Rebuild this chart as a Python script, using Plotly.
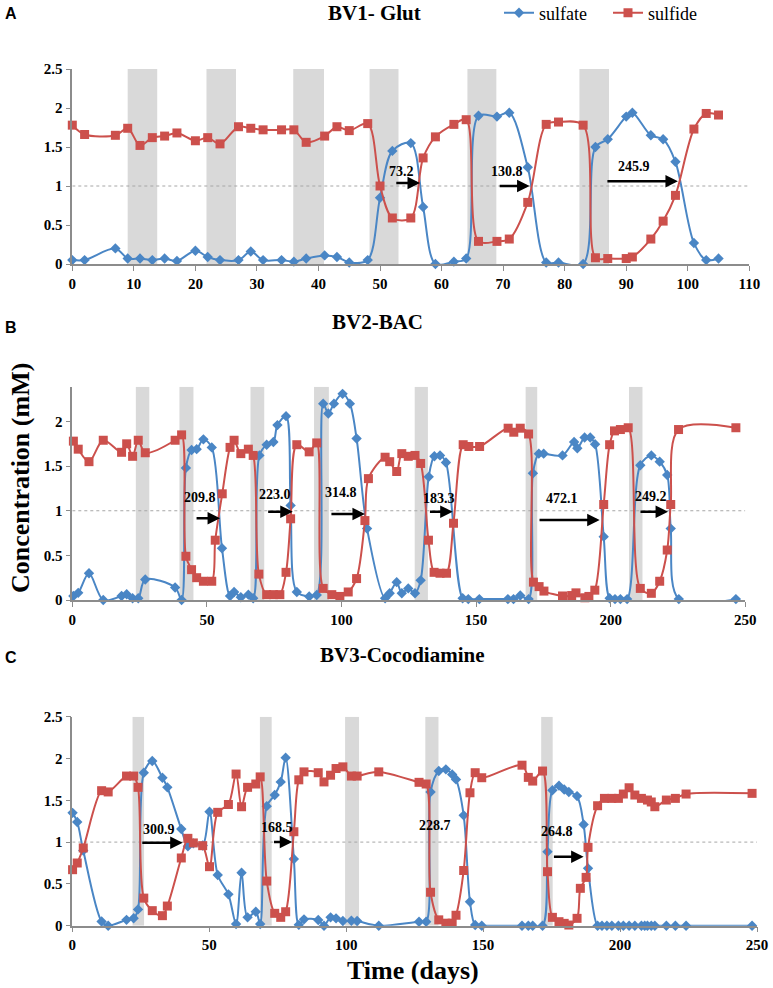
import plotly.graph_objects as go

# ---------------- data ----------------
# Panel A  (BV1- Glut)
a_day = [0, 2, 7, 9, 11, 13, 15, 17, 20, 22, 24, 27, 29, 31, 34, 36, 38, 41, 43, 45,
         48, 50, 52, 55, 57, 59, 62, 64, 66, 69, 71, 74, 77, 79, 83, 85, 87, 90, 91, 94,
         96, 98, 101, 103, 105]
a_sulfate = [0.05, 0.05, 0.20, 0.07, 0.07, 0.05, 0.07, 0.04, 0.17, 0.09, 0.05, 0.05, 0.16, 0.05,
             0.05, 0.03, 0.07, 0.11, 0.09, 0.02, 0.05, 0.85, 1.45, 1.55, 0.73, 0.0, 0.03, 0.07,
             1.90, 1.89, 1.94, 1.24, 0.02, 0.02, 0.0, 1.50, 1.60, 1.89, 1.94, 1.65, 1.60, 1.31,
             0.27, 0.05, 0.07]
a_sulfide = [1.78, 1.66, 1.65, 1.74, 1.52, 1.62, 1.64, 1.68, 1.58, 1.62, 1.54, 1.76, 1.74, 1.72,
             1.72, 1.72, 1.56, 1.64, 1.76, 1.71, 1.80, 1.00, 0.59, 0.59, 1.36, 1.63, 1.79, 1.85,
             0.29, 0.29, 0.32, 0.79, 1.79, 1.82, 1.78, 0.08, 0.07, 0.07, 0.09, 0.32, 0.55, 0.88,
             1.73, 1.93, 1.91]
a_band_labels = ['50', '100', '200', '400', '600', '1000']
a_band_start = [9.0, 21.8, 35.9, 48.3, 64.2, 82.4]
a_band_end = [13.8, 26.6, 40.9, 53.0, 68.9, 87.2]
a_arrow_labels = ['73.2', '130.8', '245.9']
a_arrow_from = [52.4, 69.2, 86.7]
a_arrow_to = [56.5, 74.3, 98.4]
a_arrow_y = [1.04, 1.0, 1.06]
a_label_x = [53.5, 70.6, 91.3]
a_label_y = [1.18, 1.18, 1.25]

# Panel B  (BV2-BAC)
b_sulfate_day = [0.4, 2.2, 6.2, 11.5, 18.3, 20.2, 22.4, 24.5, 27.1, 38.2, 40.6, 42.2, 44.3, 46.2,
                 48.7, 51.8, 55.6, 58.6, 60.1, 62.6, 65.4, 67.2, 69.5, 72.2, 74.7, 76.2, 79.4,
                 81.1, 83.4, 88.0, 90.8, 93.2, 95.1, 97.2, 100.4, 103.1, 105.6, 109.5, 116.2,
                 117.9, 120.5, 122.4, 124.8, 127.3, 129.4, 132.4, 134.5, 136.6, 138.8, 145.0,
                 147.1, 151.2, 161.8, 163.9, 166.4, 169.5, 171.1, 173.3, 175.1, 182.1, 186.4,
                 187.6, 190.3, 192.4, 194.2, 197.4, 199.6, 201.6, 203.6, 206.1, 211.0, 215.1,
                 218.2, 221.0, 222.3, 225.3, 246.5]
b_sulfate = [0.045, 0.08, 0.30, 0.0, 0.045, 0.064, 0.02, 0.02, 0.23, 0.14, 0.0, 1.48, 1.68, 1.69,
             1.80, 1.71, 0.58, 0.045, 0.09, 0.03, 0.06, 0.02, 1.62, 1.74, 1.77, 1.96, 2.06,
             1.06, 0.09, 0.04, 0.056, 2.20, 2.09, 2.20, 2.31, 2.20, 1.81, 0.80, 0.02,
             0.075, 0.20, 0.075, 0.13, 0.075, 0.22, 1.38, 1.61, 1.62, 1.54, 0.02,
             0.01, 0.01, 0.01, 0.01, 0.05, 0.01, 1.42, 1.64, 1.64, 1.62, 1.77,
             1.70, 1.82, 1.82, 1.745, 0.71, 0.02, 0.01, 0.01, 0.01, 1.51, 1.62,
             1.55, 1.40, 0.80, 0.01, 0.01]
b_sulfide_day = [0.4, 2.2, 6.2, 11.5, 18.3, 20.2, 22.4, 24.5, 27.1, 38.2, 40.6, 42.2, 44.3, 46.2,
                 48.7, 51.8, 53.1, 55.7, 58.6, 60.1, 62.6, 65.4, 67.2, 69.3, 72.2, 74.7, 77.1,
                 79.4, 81.1, 83.4, 88.0, 90.8, 93.2, 96.4, 99.4, 102.5, 105.6, 108.7, 110.0,
                 116.2, 117.9, 120.5, 122.4, 124.8, 127.3, 129.4, 132.3, 134.4, 136.6, 139.0,
                 141.6, 145.2, 147.3, 151.3, 161.9, 164.0, 166.4, 169.5, 171.3, 173.4, 175.2,
                 182.1, 185.5, 187.1, 190.4, 191.9, 194.1, 197.4, 199.6, 201.4, 203.6, 206.5,
                 211.0, 215.1, 218.2, 221.0, 222.3, 225.2, 246.5]
b_sulfide = [1.78, 1.69, 1.55, 1.79, 1.655, 1.75, 1.61, 1.79, 1.65, 1.79, 1.85, 0.49, 0.34, 0.25,
             0.21, 0.21, 0.67, 1.19, 1.71, 1.79, 1.64, 1.69, 1.62, 0.29, 0.06, 0.06, 0.06,
             0.31, 0.91, 1.74, 1.66, 1.76, 0.13, 0.06, 0.04, 0.09, 0.24, 0.89, 1.36,
             1.60, 1.55, 1.44, 1.64, 1.61, 1.62, 1.53, 0.67, 0.31, 0.30, 0.30,
             0.86, 1.74, 1.72, 1.72, 1.925, 1.88, 1.925, 1.86, 0.20, 0.15, 0.10,
             0.045, 0.05, 0.08, 0.025, 0.04, 0.11, 1.07, 1.74, 1.895, 1.91, 1.93,
             0.13, 0.075, 0.21, 0.56, 1.07, 1.91, 1.93]
b_band_labels = ['36', '180', '360', '1080', '100', '1440', '800']
b_band_start = [23.6, 39.8, 66.2, 89.8, 127.2, 168.4, 206.8]
b_band_end = [28.6, 45.0, 71.3, 95.3, 132.1, 172.7, 211.8]
b_arrow_labels = ['209.8', '223.0', '314.8', '183.3', '472.1', '249.2']
b_arrow_from = [45.6, 72.2, 95.7, 132.3, 173.0, 210.5]
b_arrow_to = [54.9, 81.9, 108.7, 141.3, 195.9, 221.3]
b_arrow_y = [0.915, 0.99, 0.964, 0.99, 0.897, 0.99]
b_label_x = [47.4, 75.3, 99.7, 136.4, 182.0, 215.1]
b_label_y = [1.15, 1.18, 1.21, 1.14, 1.14, 1.16]

# Panel C  (BV3-Cocodiamine)
c_sulfate_day = [0.1, 1.8, 4.0, 10.7, 13.1, 19.8, 22.4, 24.0, 26.1, 29.2, 32.9, 34.7, 39.8, 42.2,
                 44.2, 47.6, 50.1, 53.1, 57.0, 59.8, 61.8, 64.0, 67.0, 68.6, 71.0, 73.9, 76.1,
                 77.9, 80.9, 82.7, 84.6, 89.8, 91.9, 94.3, 96.3, 98.8, 101.9, 104.0, 111.9,
                 126.6, 129.2, 130.8, 133.8, 136.4, 138.7, 140.1, 142.9, 145.2, 147.1, 149.5,
                 164.2, 166.5, 168.1, 171.7, 173.5, 175.3, 177.7, 179.6, 181.3, 184.3, 186.7,
                 188.3, 191.8, 193.4, 195.2, 197.0, 199.4, 201.2, 203.3, 205.4, 207.8, 209.0,
                 210.0, 211.4, 212.7, 216.9, 220.2, 224.1, 248.2]
c_sulfate = [1.35, 1.24, 0.90, 0.05, 0.0, 0.07, 0.09, 0.195, 1.83, 1.97, 1.77, 1.655, 1.156, 0.95,
             0.985, 0.96, 1.364, 0.606, 0.375, 0.02, 0.634, 0.10, 0.167, 0.02, 1.43, 1.563, 1.72,
             2.01, 0.797, 0.01, 0.076, 0.068, 0.0, 0.10, 0.088, 0.056, 0.06, 0.056, 0.0,
             0.048, 0.048, 1.60, 1.85, 1.87, 1.81, 1.75, 1.32, 0.287, 0.008, 0.0,
             0.0, 0.0, 0.0, 0.0, 0.885, 1.62, 1.675, 1.63, 1.60, 1.55, 1.21,
             0.686, 0.0, 0.0, 0.0, 0.0, 0.0, 0.0, 0.0, 0.0, 0.0, 0.0,
             0.0, 0.0, 0.0, 0.0, 0.0, 0.0, 0.0]
c_sulfide_day = [0.1, 1.8, 4.0, 10.7, 13.1, 19.8, 22.4, 24.0, 26.1, 29.2, 32.9, 34.7, 39.8, 42.2,
                 44.2, 47.6, 50.1, 53.1, 57.0, 59.8, 61.8, 64.0, 67.0, 68.6, 71.0, 73.9, 76.1,
                 77.9, 80.9, 82.7, 84.6, 89.8, 91.9, 94.3, 96.3, 98.8, 101.9, 104.0, 111.9,
                 126.6, 129.2, 130.8, 133.8, 136.4, 138.7, 140.1, 142.9, 145.2, 147.1, 149.5,
                 164.2, 166.5, 168.1, 171.7, 173.5, 175.3, 177.7, 179.6, 181.3, 184.3, 185.5,
                 187.6, 188.3, 191.8, 194.3, 197.0, 199.4, 201.2, 203.3, 205.4, 207.8, 210.0,
                 211.4, 212.7, 216.9, 220.2, 224.1, 248.2]
c_sulfide = [0.67, 0.75, 0.93, 1.615, 1.60, 1.79, 1.79, 1.655, 0.33, 0.18, 0.12, 0.235, 0.81, 1.045,
             0.99, 0.957, 0.706, 1.356, 1.45, 1.814, 1.423, 1.655, 1.695, 1.78, 0.534, 0.148, 0.10,
             0.167, 1.124, 1.745, 1.84, 1.83, 1.72, 1.80, 1.88, 1.90, 1.79, 1.79, 1.84,
             1.715, 1.695, 0.40, 0.07, 0.03, 0.03, 0.125, 0.66, 1.59, 1.83, 1.77,
             1.92, 1.774, 1.73, 1.85, 0.646, 0.10, 0.048, 0.028, 0.008, 0.088, 0.447,
             0.578, 0.937, 1.435, 1.523, 1.523, 1.523, 1.575, 1.65, 1.563, 1.523, 1.503,
             1.48, 1.423, 1.503, 1.523, 1.575, 1.583]
c_band_labels = ['50', '25', '12.5', '100', '150']
c_band_start = [22.0, 68.5, 99.6, 128.9, 171.2]
c_band_end = [26.2, 72.8, 104.7, 133.7, 175.4]
c_arrow_labels = ['300.9', '168.5', '228.7', '264.8']
c_arrow_from = [25.0, 73.1, None, 175.3]
c_arrow_to = [40.3, 80.3, None, 186.7]
c_arrow_y = [0.993, 1.0, None, 0.825]
c_label_x = [31.6, 74.9, 132.4, 177.1]
c_label_y = [1.145, 1.18, 1.196, 1.124]

a_xticks = [0, 10, 20, 30, 40, 50, 60, 70, 80, 90, 100, 110]
bc_xticks = [0, 50, 100, 150, 200, 250]
y_ticks = [0, 0.5, 1, 1.5, 2, 2.5]

# ---------------- styling ----------------
BLUE = '#4a86c5'
RED = '#cc504c'
AXIS = '#8c8c8c'
BAND = '#d9d9d9'
SERIF = 'Liberation Serif'
W, H = 773, 988

fig = go.Figure()

panels = [
    dict(ax='', xs_s=a_day, s=a_sulfate, xs_h=a_day, h=a_sulfide, legend=True,
         bl=a_band_labels, b0=a_band_start, b1=a_band_end, ytop=2.5, xmax=110, band_label_y=2.65,
         al=a_arrow_labels, af=a_arrow_from, at=a_arrow_to, ay=a_arrow_y, lx=a_label_x, ly=a_label_y),
    dict(ax='2', xs_s=b_sulfate_day, s=b_sulfate, xs_h=b_sulfide_day, h=b_sulfide, legend=False,
         bl=b_band_labels, b0=b_band_start, b1=b_band_end, ytop=2.39, xmax=250, band_label_y=2.59,
         al=b_arrow_labels, af=b_arrow_from, at=b_arrow_to, ay=b_arrow_y, lx=b_label_x, ly=b_label_y),
    dict(ax='3', xs_s=c_sulfate_day, s=c_sulfate, xs_h=c_sulfide_day, h=c_sulfide, legend=False,
         bl=c_band_labels, b0=c_band_start, b1=c_band_end, ytop=2.5, xmax=250, band_label_y=2.66,
         al=c_arrow_labels, af=c_arrow_from, at=c_arrow_to, ay=c_arrow_y, lx=c_label_x, ly=c_label_y),
]

shapes = []
annotations = []

for p in panels:
    xr = 'x' + p['ax']
    yr = 'y' + p['ax']
    fig.add_trace(go.Scatter(
        x=p['xs_s'], y=p['s'], name='sulfate', mode='lines+markers',
        line=dict(color=BLUE, width=2, shape='spline', smoothing=0.9),
        marker=dict(symbol='diamond', size=8, color=BLUE),
        xaxis=xr, yaxis=yr, showlegend=p['legend'], legendgroup='sulfate', cliponaxis=False))
    fig.add_trace(go.Scatter(
        x=p['xs_h'], y=p['h'], name='sulfide', mode='lines+markers',
        line=dict(color=RED, width=2, shape='spline', smoothing=0.9),
        marker=dict(symbol='square', size=9, color=RED),
        xaxis=xr, yaxis=yr, showlegend=p['legend'], legendgroup='sulfide', cliponaxis=False))
    for lab, x0, x1 in zip(p['bl'], p['b0'], p['b1']):
        shapes.append(dict(type='rect', xref=xr, yref=yr, x0=x0, x1=x1, y0=0, y1=p['ytop'],
                           fillcolor=BAND, line=dict(width=0), layer='below'))
        annotations.append(dict(xref=xr, yref=yr, x=(x0 + x1) / 2, y=p['band_label_y'],
                                text='<b>%s</b>' % lab, showarrow=False,
                                font=dict(family=SERIF, size=14, color='black')))
    shapes.append(dict(type='line', xref=xr, yref=yr, x0=0, x1=p['xmax'], y0=1, y1=1,
                       line=dict(color='#a6a6a6', width=1, dash='dot'), layer='below'))
    for lab, f, t, y, lx, ly in zip(p['al'], p['af'], p['at'], p['ay'], p['lx'], p['ly']):
        if f is not None:
            annotations.append(dict(xref=xr, yref=yr, axref=xr, ayref=yr, x=t, y=y, ax=f, ay=y,
                                    text='', showarrow=True, arrowhead=2, arrowsize=1,
                                    arrowwidth=2.5, arrowcolor='black', standoff=0))
        annotations.append(dict(xref=xr, yref=yr, x=lx, y=ly, text='<b>%s</b>' % lab,
                                showarrow=False, font=dict(family=SERIF, size=14, color='black')))

# titles / panel letters / axis titles
for txt, x, y in [('BV1- Glut', 374, 13), ('BV2-BAC', 377, 322), ('BV3-Cocodiamine', 403, 655)]:
    annotations.append(dict(xref='paper', yref='paper', x=x / W, y=1 - y / H, text='<b>%s</b>' % txt,
                            showarrow=False, xanchor='center', yanchor='middle',
                            font=dict(family=SERIF, size=21, color='black')))
for txt, y in [('A', 13), ('B', 327), ('C', 657)]:
    annotations.append(dict(xref='paper', yref='paper', x=3 / W, y=1 - y / H, text='<b>%s</b>' % txt,
                            showarrow=False, xanchor='left', yanchor='middle',
                            font=dict(family='Liberation Sans', size=16, color='black')))
annotations.append(dict(xref='paper', yref='paper', x=20 / W, y=1 - 478 / H,
                        text='<b>Concentration (mM)</b>', textangle=-90, showarrow=False,
                        xanchor='center', yanchor='middle',
                        font=dict(family=SERIF, size=26, color='black')))
annotations.append(dict(xref='paper', yref='paper', x=413 / W, y=1 - 970 / H,
                        text='<b>Time (days)</b>', showarrow=False, xanchor='center', yanchor='middle',
                        font=dict(family=SERIF, size=26, color='black')))

tickfont = dict(family=SERIF, size=15, color='black')


def fmt(v):
    return '<b>%g</b>' % v


common = dict(showline=True, linecolor=AXIS, linewidth=1.5, ticks='outside', ticklen=5,
              tickcolor=AXIS, tickwidth=1.2, showgrid=False, zeroline=False, tickfont=tickfont)

fig.update_layout(
    width=W, height=H, margin=dict(l=0, r=0, t=0, b=0, pad=0, autoexpand=False),
    paper_bgcolor='white', plot_bgcolor='white',
    shapes=shapes, annotations=annotations,
    legend=dict(orientation='h', x=499 / W, y=1 - 13 / H, xanchor='left', yanchor='middle',
                font=dict(family=SERIF, size=18, color='black'), bgcolor='rgba(0,0,0,0)',
                itemwidth=30, traceorder='normal', entrywidth=64, entrywidthmode='pixels'),
    xaxis=dict(domain=[72.3 / W, 749.3 / W], range=[0, 110], anchor='y',
               tickvals=a_xticks, ticktext=[fmt(v) for v in a_xticks], **common),
    yaxis=dict(domain=[1 - 264 / H, 1 - 69 / H], range=[0, 2.5], anchor='x',
               tickvals=y_ticks, ticktext=[fmt(v) for v in y_ticks], **common),
    xaxis2=dict(domain=[72.3 / W, 745.3 / W], range=[0, 250], anchor='y2',
                tickvals=bc_xticks, ticktext=[fmt(v) for v in bc_xticks], **common),
    yaxis2=dict(domain=[1 - 600 / H, 1 - 386.7 / H], range=[0, 2.39], anchor='x2',
                tickvals=y_ticks[:5], ticktext=[fmt(v) for v in y_ticks[:5]], **common),
    xaxis3=dict(domain=[72.3 / W, 757 / W], range=[0, 250], anchor='y3',
                tickvals=bc_xticks, ticktext=[fmt(v) for v in bc_xticks], **common),
    yaxis3=dict(domain=[1 - 925.7 / H, 1 - 716.7 / H], range=[0, 2.5], anchor='x3',
                tickvals=y_ticks, ticktext=[fmt(v) for v in y_ticks], **common),
)

fig.write_html('out.html', config={'displayModeBar': False},
               post_script="document.body.style.margin='0';document.body.style.overflow='hidden';")
